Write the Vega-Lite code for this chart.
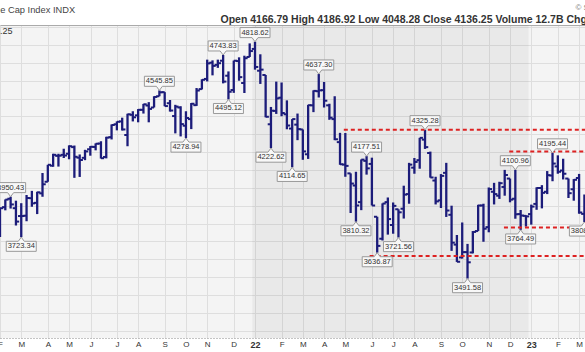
{
  "$schema": "https://vega.github.io/schema/vega-lite/v6.json",
  "width": 585,
  "height": 313,
  "autosize": {"type": "none"},
  "padding": {"top": 25, "left": 0, "right": 0, "bottom": 14},
  "background": "white",
  "config": {"view": {"stroke": null, "fill": "#f4f4f4"}, "font": "Liberation Sans"},
  "datasets": {
    "bars": [
      {"d":"2021-02-01","o":3731,"h":3887,"l":3725,"c":3886},
      {"d":"2021-02-08","o":3892,"h":3935,"l":3874,"c":3934},
      {"d":"2021-02-15","o":3939,"h":3950.43,"l":3884,"c":3907},
      {"d":"2021-02-22","o":3886,"h":3928,"l":3789,"c":3811},
      {"d":"2021-03-01","o":3842,"h":3914,"l":3723.34,"c":3842},
      {"d":"2021-03-08","o":3844,"h":3960,"l":3813,"c":3943},
      {"d":"2021-03-15","o":3942,"h":3983,"l":3894,"c":3913},
      {"d":"2021-03-22","o":3916,"h":3978,"l":3853,"c":3975},
      {"d":"2021-03-29","o":3969,"h":4083,"l":3950,"c":4020},
      {"d":"2021-04-05","o":4034,"h":4129,"l":4034,"c":4129},
      {"d":"2021-04-12","o":4124,"h":4191,"l":4118,"c":4185},
      {"d":"2021-04-19","o":4179,"h":4191,"l":4119,"c":4180},
      {"d":"2021-04-26","o":4185,"h":4219,"l":4167,"c":4181},
      {"d":"2021-05-03","o":4191,"h":4238,"l":4160,"c":4233},
      {"d":"2021-05-10","o":4228,"h":4237,"l":4056,"c":4174},
      {"d":"2021-05-17","o":4169,"h":4187,"l":4061,"c":4156},
      {"d":"2021-05-24","o":4168,"h":4213,"l":4155,"c":4204},
      {"d":"2021-05-31","o":4216,"h":4234,"l":4180,"c":4230},
      {"d":"2021-06-07","o":4229,"h":4249,"l":4210,"c":4247},
      {"d":"2021-06-14","o":4248,"h":4261,"l":4164,"c":4166},
      {"d":"2021-06-21","o":4173,"h":4286,"l":4165,"c":4281},
      {"d":"2021-06-28","o":4284,"h":4355,"l":4271,"c":4352},
      {"d":"2021-07-05","o":4356,"h":4372,"l":4322,"c":4370},
      {"d":"2021-07-12","o":4372,"h":4393,"l":4321,"c":4327},
      {"d":"2021-07-19","o":4296,"h":4415,"l":4233,"c":4412},
      {"d":"2021-07-26","o":4409,"h":4429,"l":4372,"c":4395},
      {"d":"2021-08-02","o":4406,"h":4441,"l":4367,"c":4437},
      {"d":"2021-08-09","o":4437,"h":4470,"l":4416,"c":4468},
      {"d":"2021-08-16","o":4461,"h":4480,"l":4367,"c":4442},
      {"d":"2021-08-23","o":4450,"h":4513,"l":4450,"c":4509},
      {"d":"2021-08-30","o":4513,"h":4545.85,"l":4513,"c":4535},
      {"d":"2021-09-06","o":4536,"h":4536,"l":4457,"c":4458},
      {"d":"2021-09-13","o":4474,"h":4492,"l":4427,"c":4433},
      {"d":"2021-09-20","o":4402,"h":4465,"l":4305,"c":4455},
      {"d":"2021-09-27","o":4450,"h":4457,"l":4288,"c":4357},
      {"d":"2021-10-04","o":4348,"h":4429,"l":4278.94,"c":4391},
      {"d":"2021-10-11","o":4385,"h":4475,"l":4329,"c":4471},
      {"d":"2021-10-18","o":4463,"h":4559,"l":4459,"c":4545},
      {"d":"2021-10-25","o":4553,"h":4608,"l":4551,"c":4605},
      {"d":"2021-11-01","o":4610,"h":4718,"l":4596,"c":4697},
      {"d":"2021-11-08","o":4701,"h":4714,"l":4630,"c":4683},
      {"d":"2021-11-15","o":4689,"h":4718,"l":4672,"c":4698},
      {"d":"2021-11-22","o":4712,"h":4743.83,"l":4585,"c":4595},
      {"d":"2021-11-29","o":4628,"h":4652,"l":4495.12,"c":4538},
      {"d":"2021-12-06","o":4548,"h":4713,"l":4532,"c":4712},
      {"d":"2021-12-13","o":4710,"h":4731,"l":4600,"c":4620},
      {"d":"2021-12-20","o":4587,"h":4740,"l":4531,"c":4726},
      {"d":"2021-12-27","o":4733,"h":4809,"l":4733,"c":4766},
      {"d":"2022-01-03","o":4778,"h":4818.62,"l":4662,"c":4677},
      {"d":"2022-01-10","o":4656,"h":4748,"l":4582,"c":4662},
      {"d":"2022-01-17","o":4632,"h":4632,"l":4395,"c":4398},
      {"d":"2022-01-24","o":4356,"h":4453,"l":4222.62,"c":4432},
      {"d":"2022-01-31","o":4431,"h":4595,"l":4414,"c":4501},
      {"d":"2022-02-07","o":4505,"h":4590,"l":4401,"c":4419},
      {"d":"2022-02-14","o":4412,"h":4490,"l":4328,"c":4349},
      {"d":"2022-02-21","o":4332,"h":4385,"l":4114.65,"c":4385},
      {"d":"2022-02-28","o":4354,"h":4416,"l":4267,"c":4329},
      {"d":"2022-03-07","o":4327,"h":4327,"l":4157,"c":4204},
      {"d":"2022-03-14","o":4188,"h":4465,"l":4162,"c":4463},
      {"d":"2022-03-21","o":4462,"h":4546,"l":4424,"c":4543},
      {"d":"2022-03-28","o":4541,"h":4637.3,"l":4506,"c":4546},
      {"d":"2022-04-04","o":4547,"h":4593,"l":4450,"c":4488},
      {"d":"2022-04-11","o":4462,"h":4471,"l":4381,"c":4393},
      {"d":"2022-04-18","o":4385,"h":4513,"l":4267,"c":4272},
      {"d":"2022-04-25","o":4256,"h":4308,"l":4129,"c":4132},
      {"d":"2022-05-02","o":4130,"h":4307,"l":4062,"c":4123},
      {"d":"2022-05-09","o":4081,"h":4081,"l":3859,"c":4024},
      {"d":"2022-05-16","o":4013,"h":4090,"l":3810.32,"c":3901},
      {"d":"2022-05-23","o":3920,"h":4159,"l":3875,"c":4158},
      {"d":"2022-05-30","o":4151,"h":4177.51,"l":4074,"c":4109},
      {"d":"2022-06-06","o":4134,"h":4169,"l":3901,"c":3901},
      {"d":"2022-06-13","o":3838,"h":3838,"l":3636.87,"c":3675},
      {"d":"2022-06-20","o":3715,"h":3913,"l":3705,"c":3912},
      {"d":"2022-06-27","o":3920,"h":3946,"l":3738,"c":3825},
      {"d":"2022-07-04","o":3792,"h":3918,"l":3743,"c":3899},
      {"d":"2022-07-11","o":3880,"h":3880,"l":3721.56,"c":3863},
      {"d":"2022-07-18","o":3883,"h":4012,"l":3828,"c":3962},
      {"d":"2022-07-25","o":3965,"h":4140,"l":3911,"c":4130},
      {"d":"2022-08-01","o":4113,"h":4167,"l":4079,"c":4145},
      {"d":"2022-08-08","o":4155,"h":4280,"l":4107,"c":4280},
      {"d":"2022-08-15","o":4270,"h":4325.28,"l":4218,"c":4228},
      {"d":"2022-08-22","o":4195,"h":4203,"l":4057,"c":4058},
      {"d":"2022-08-29","o":4041,"h":4062,"l":3907,"c":3924},
      {"d":"2022-09-05","o":3930,"h":4077,"l":3887,"c":4067},
      {"d":"2022-09-12","o":4084,"h":4140,"l":3837,"c":3873},
      {"d":"2022-09-19","o":3849,"h":3900,"l":3647,"c":3693},
      {"d":"2022-09-26","o":3682,"h":3736,"l":3585,"c":3586},
      {"d":"2022-10-03","o":3610,"h":3806,"l":3604,"c":3640},
      {"d":"2022-10-10","o":3640,"h":3686,"l":3491.58,"c":3583},
      {"d":"2022-10-17","o":3638,"h":3758,"l":3633,"c":3753},
      {"d":"2022-10-24","o":3758,"h":3905,"l":3758,"c":3901},
      {"d":"2022-10-31","o":3901,"h":3911,"l":3698,"c":3771},
      {"d":"2022-11-07","o":3780,"h":4002,"l":3751,"c":3993},
      {"d":"2022-11-14","o":3978,"h":4028,"l":3907,"c":3965},
      {"d":"2022-11-21","o":3956,"h":4034,"l":3938,"c":4026},
      {"d":"2022-11-28","o":4005,"h":4100.51,"l":3956,"c":4072},
      {"d":"2022-12-05","o":4052,"h":4052,"l":3919,"c":3934},
      {"d":"2022-12-12","o":3939,"h":4100.96,"l":3827,"c":3852},
      {"d":"2022-12-19","o":3853,"h":3876,"l":3764.49,"c":3845},
      {"d":"2022-12-26","o":3843,"h":3846,"l":3783,"c":3840},
      {"d":"2023-01-02","o":3853,"h":3906,"l":3794,"c":3895},
      {"d":"2023-01-09","o":3910,"h":4003,"l":3877,"c":3999},
      {"d":"2023-01-16","o":3999,"h":4015,"l":3885,"c":3972},
      {"d":"2023-01-23","o":3978,"h":4094,"l":3965,"c":4071},
      {"d":"2023-01-30","o":4069,"h":4195.44,"l":4037,"c":4136},
      {"d":"2023-02-06","o":4120,"h":4182,"l":4079,"c":4090},
      {"d":"2023-02-13","o":4097,"h":4163,"l":4047,"c":4079},
      {"d":"2023-02-20","o":4052,"h":4052,"l":3943,"c":3970},
      {"d":"2023-02-27","o":3992,"h":4049,"l":3928,"c":4045},
      {"d":"2023-03-06","o":4055,"h":4078,"l":3855,"c":3862},
      {"d":"2023-03-13","o":3854,"h":3962,"l":3808.86,"c":3917}
    ],
    "highs": [
      {"d":"2021-02-15","v":3950.43,"t":"3950.43"},
      {"d":"2021-08-30","v":4545.85,"t":"4545.85"},
      {"d":"2021-11-22","v":4743.83,"t":"4743.83"},
      {"d":"2022-01-03","v":4818.62,"t":"4818.62"},
      {"d":"2022-03-28","v":4637.3,"t":"4637.30"},
      {"d":"2022-05-30","v":4177.51,"t":"4177.51"},
      {"d":"2022-08-15","v":4325.28,"t":"4325.28"},
      {"d":"2022-12-12","v":4100.96,"t":"4100.96"},
      {"d":"2023-01-30","v":4195.44,"t":"4195.44"}
    ],
    "lows": [
      {"d":"2021-03-01","v":3723.34,"t":"3723.34"},
      {"d":"2021-10-04","v":4278.94,"t":"4278.94"},
      {"d":"2021-11-29","v":4495.12,"t":"4495.12"},
      {"d":"2022-01-24","v":4222.62,"t":"4222.62"},
      {"d":"2022-02-21","v":4114.65,"t":"4114.65"},
      {"d":"2022-05-16","v":3810.32,"t":"3810.32"},
      {"d":"2022-06-13","v":3636.87,"t":"3636.87"},
      {"d":"2022-07-11","v":3721.56,"t":"3721.56"},
      {"d":"2022-10-10","v":3491.58,"t":"3491.58"},
      {"d":"2022-12-19","v":3764.49,"t":"3764.49"},
      {"d":"2023-03-13","v":3808.86,"t":"3808.86"}
    ],
    "lines": [
      {"s":"2022-04-30","e":"2023-04-15","v":4325},
      {"s":"2022-06-03","e":"2023-04-15","v":3618},
      {"s":"2022-12-04","e":"2023-04-15","v":4203},
      {"s":"2022-11-27","e":"2023-04-15","v":3778}
    ],
    "bands": [
      {"s":"2021-12-30T12:00:00","e":"2022-12-29T12:00:00"}
    ]
  },
  "layer": [
    {
      "data": {"name": "bands"},
      "mark": {"type": "rect", "color": "#000000", "opacity": 0.045},
      "encoding": {
        "x": {"field": "s", "type": "temporal", "axis": null,
              "scale": {"type": "utc", "domain": [{"year":2021,"month":2,"date":1,"utc":true},{"year":2023,"month":3,"date":13,"hours":19,"utc":true}]}},
        "x2": {"field": "e"}
      }
    },
    {
      "data": {"name": "bars"},
      "mark": {"type": "rule", "color": "#1c1c7a", "strokeWidth": 2.3},
      "encoding": {
        "x": {"field": "d", "type": "temporal",
              "axis": {"orient": "bottom", "title": "S&P 500 Large Cap Index INDX", "titleX": -58, "titleY": -326, "titleAlign": "left", "titleBaseline": "alphabetic", "titleFontSize": 9.3, "titleFontWeight": "normal", "titleColor": "#444",
                "values": [
                  {"year":2021,"month":2,"date":1,"utc":true},{"year":2021,"month":3,"date":1,"utc":true},{"year":2021,"month":4,"date":5,"utc":true},{"year":2021,"month":5,"date":3,"utc":true},{"year":2021,"month":6,"date":1,"utc":true},{"year":2021,"month":7,"date":5,"utc":true},{"year":2021,"month":8,"date":2,"utc":true},{"year":2021,"month":9,"date":6,"utc":true},{"year":2021,"month":10,"date":4,"utc":true},{"year":2021,"month":11,"date":1,"utc":true},{"year":2021,"month":12,"date":6,"utc":true},
                  {"year":2022,"month":1,"date":3,"utc":true},{"year":2022,"month":2,"date":7,"utc":true},{"year":2022,"month":3,"date":7,"utc":true},{"year":2022,"month":4,"date":4,"utc":true},{"year":2022,"month":5,"date":2,"utc":true},{"year":2022,"month":6,"date":6,"utc":true},{"year":2022,"month":7,"date":4,"utc":true},{"year":2022,"month":8,"date":1,"utc":true},{"year":2022,"month":9,"date":5,"utc":true},{"year":2022,"month":10,"date":3,"utc":true},{"year":2022,"month":11,"date":7,"utc":true},{"year":2022,"month":12,"date":5,"utc":true},
                  {"year":2023,"month":1,"date":2,"utc":true},{"year":2023,"month":2,"date":6,"utc":true},{"year":2023,"month":3,"date":6,"utc":true}],
                "labelExpr": "utcmonth(datum.value) == 0 ? utcFormat(datum.value, '%y') : slice(utcFormat(datum.value, '%b'), 0, 1)",
                "labelFontWeight": {"condition": {"test": "utcmonth(datum.value) == 0", "value": "bold"}, "value": "normal"},
                "labelFontSize": {"condition": {"test": "utcmonth(datum.value) == 0", "value": 9}, "value": 8},
                "labelColor": "#333", "labelPadding": 2, "labelBaseline": "top", "labelFlush": false, "labelOverlap": false,
                "ticks": false, "grid": true, "gridColor": "#dedede", "gridWidth": 1,
                "domain": true, "domainColor": "#888", "domainDash": [1, 2]}},
        "y": {"field": "l", "type": "quantitative",
              "scale": {"domain": [3159, 4912], "zero": false, "nice": false},
              "axis": {"orient": "left", "title": "$SPX (Weekly) 4136.25", "titleAngle": 0, "titleX": 12, "titleY": 5, "titleAlign": "right", "titleBaseline": "middle", "titleFontSize": 9, "titleFontWeight": "normal", "titleColor": "#333",
                "values": [3200,3300,3400,3500,3600,3700,3800,3900,4000,4100,4200,4300,4400,4500,4600,4700,4800,4900],
                "labels": false, "ticks": false, "domain": false, "grid": true, "gridColor": "#dedede", "gridWidth": 1}},
        "y2": {"field": "h"}
      }
    },
    {
      "data": {"name": "bars"},
      "mark": {"type": "point", "shape": "M-1,0L0,0", "size": 42, "filled": false, "stroke": "#1c1c7a", "strokeWidth": 2, "opacity": 1},
      "encoding": {
        "x": {"field": "d", "type": "temporal", "axis": null},
        "y": {"field": "o", "type": "quantitative", "axis": null}
      }
    },
    {
      "data": {"name": "bars"},
      "mark": {"type": "point", "shape": "M0,0L1,0", "size": 42, "filled": false, "stroke": "#1c1c7a", "strokeWidth": 2, "opacity": 1},
      "encoding": {
        "x": {"field": "d", "type": "temporal", "axis": null},
        "y": {"field": "c", "type": "quantitative", "axis": null}
      }
    },
    {
      "data": {"name": "lines"},
      "mark": {"type": "rule", "color": "#dd2222", "strokeWidth": 2, "strokeDash": [4, 3]},
      "encoding": {
        "x": {"field": "s", "type": "temporal",
              "axis": {"orient": "top", "labels": false, "ticks": false, "grid": false, "domain": true, "domainColor": "#aaaaaa",
                       "title": "Open 4166.79 High 4186.92 Low 4048.28 Close 4136.25 Volume 12.7B Chg -30.54 (-0.73%)",
                       "titleX": 220, "titleY": -3, "titleAlign": "left", "titleBaseline": "alphabetic", "titleFontSize": 10.5, "titleFontWeight": "bold", "titleColor": "#333"}},
        "x2": {"field": "e"},
        "y": {"field": "v", "type": "quantitative",
              "axis": {"orient": "right", "labels": false, "ticks": false, "grid": false, "domain": false,
                       "title": "© StockCharts.com", "titleAngle": 0, "titleX": -10, "titleY": -18, "titleAlign": "left", "titleBaseline": "middle", "titleFontSize": 8, "titleFontWeight": "normal", "titleColor": "#777"}}
      }
    },
    {
      "data": {"name": "highs"},
      "mark": {"type": "point", "shape": "M-1,-0.94L1,-0.94L1,-0.27L0.2,-0.27L0,0L-0.2,-0.27L-1,-0.27Z", "size": 900, "filled": true, "fill": "#f8f8f8", "stroke": "#999999", "strokeWidth": 1, "opacity": 1},
      "encoding": {
        "x": {"field": "d", "type": "temporal", "axis": null},
        "y": {"field": "v", "type": "quantitative", "axis": null}
      }
    },
    {
      "data": {"name": "highs"},
      "mark": {"type": "text", "fontSize": 7.5, "color": "#333", "align": "center", "baseline": "middle", "dy": -9},
      "encoding": {
        "x": {"field": "d", "type": "temporal", "axis": null},
        "y": {"field": "v", "type": "quantitative", "axis": null},
        "text": {"field": "t"}
      }
    },
    {
      "data": {"name": "lows"},
      "mark": {"type": "point", "shape": "M-1,0.94L1,0.94L1,0.27L0.2,0.27L0,0L-0.2,0.27L-1,0.27Z", "size": 900, "filled": true, "fill": "#f8f8f8", "stroke": "#999999", "strokeWidth": 1, "opacity": 1},
      "encoding": {
        "x": {"field": "d", "type": "temporal", "axis": null},
        "y": {"field": "v", "type": "quantitative", "axis": null}
      }
    },
    {
      "data": {"name": "lows"},
      "mark": {"type": "text", "fontSize": 7.5, "color": "#333", "align": "center", "baseline": "middle", "dy": 9},
      "encoding": {
        "x": {"field": "d", "type": "temporal", "axis": null},
        "y": {"field": "v", "type": "quantitative", "axis": null},
        "text": {"field": "t"}
      }
    }
  ],
  "resolve": {"axis": {"x": "independent", "y": "independent"}}
}
